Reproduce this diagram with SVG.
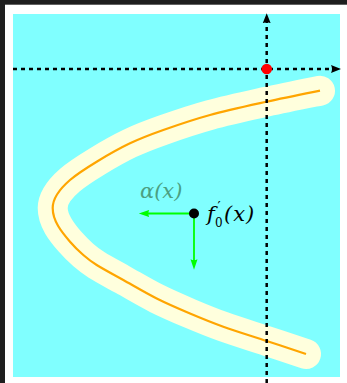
<svg xmlns="http://www.w3.org/2000/svg" width="347" height="383" viewBox="0 0 347 383">
<defs>
<style>
.dash{stroke:#000;stroke-width:2.5;stroke-dasharray:4 4;fill:none}
.garrow{stroke:#00ff00;stroke-width:1.8;fill:none}
.lbl{font-family:"DejaVu Serif","Liberation Serif",serif;font-style:italic;font-size:21px}
.up{font-style:normal}
</style>
<marker id="blk" markerWidth="12" markerHeight="10" refX="5" refY="5" orient="auto" markerUnits="userSpaceOnUse">
<path d="M0,1 L10,5 L0,9 Q2,5 0,1Z" fill="#000"/>
</marker>
<marker id="grn" markerWidth="12" markerHeight="10" refX="6" refY="5" orient="auto" markerUnits="userSpaceOnUse">
<path d="M0,1.5 L10.5,5 L0,8.5 Q2,5 0,1.5Z" fill="#00ff00"/>
</marker>
<path id="curve" d="M320,90.7 C311.1,92.5 285.0,97.65 266.7,101.7 C248.4,105.75 227.2,110.3 210,115 C192.8,119.7 176.6,125.3 163.3,130 C150.0,134.7 141.1,138.0 130,143.3 C118.9,148.6 106.7,155.6 96.7,161.7 C86.7,167.8 76.7,174.2 70,180 C61.7,187.2 52.7,197 52.7,208 C52.7,221 61.5,231.9 70,241.7 C73.88,246.15 78.85,251.12 83.3,255 C87.75,258.88 90.03,260.83 96.7,265 C103.37,269.17 113.3,274.42 123.3,280 C133.3,285.58 145.58,292.92 156.7,298.5 C167.82,304.08 178.9,308.8 190,313.5 C201.1,318.2 210.52,322.12 223.3,326.7 C236.08,331.28 252.92,336.45 266.7,341 C280.48,345.55 299.45,351.83 306,354"/>
</defs>
<rect x="0" y="0" width="347" height="383" fill="#ffffff"/>
<rect x="0" y="0" width="347" height="4.7" fill="#1e1e1e"/>
<rect x="0" y="0" width="5" height="383" fill="#1e1e1e"/>
<rect x="13" y="14" width="327" height="363" fill="#80ffff"/>
<g id="band">
<use href="#curve" fill="none" stroke="#ffffdd" stroke-width="30" stroke-linecap="round"/>
<use href="#curve" fill="none" stroke="#ffa500" stroke-width="2.2"/>
</g>
<g id="connectors">
<line class="dash" x1="13" y1="69" x2="336" y2="69" marker-end="url(#blk)"/>
<line class="dash" x1="266.7" y1="383" x2="266.7" y2="18.3" marker-end="url(#blk)"/>
<line class="garrow" x1="194" y1="213.5" x2="143.3" y2="213.5" marker-end="url(#grn)"/>
<line class="garrow" x1="194" y1="213.5" x2="194" y2="265.3" marker-end="url(#grn)"/>
</g>
<g id="node-red">
<circle cx="266.7" cy="69" r="5.3" fill="#ff0000"/>
</g>
<g id="node-f0">
<circle cx="194" cy="213.5" r="5" fill="#000"/>
<text class="lbl" x="207" y="221" fill="#000">f<tspan class="up" x="217.5" y="211.5" font-size="14">′</tspan><tspan class="up" x="215" y="226.5" font-size="12">0</tspan><tspan x="224" y="221" letter-spacing="1">(x)</tspan></text>
</g>
<g id="node-alpha">
<text class="lbl" x="140" y="197.5" fill="#4ba082">α(x)</text>
</g>
</svg>
